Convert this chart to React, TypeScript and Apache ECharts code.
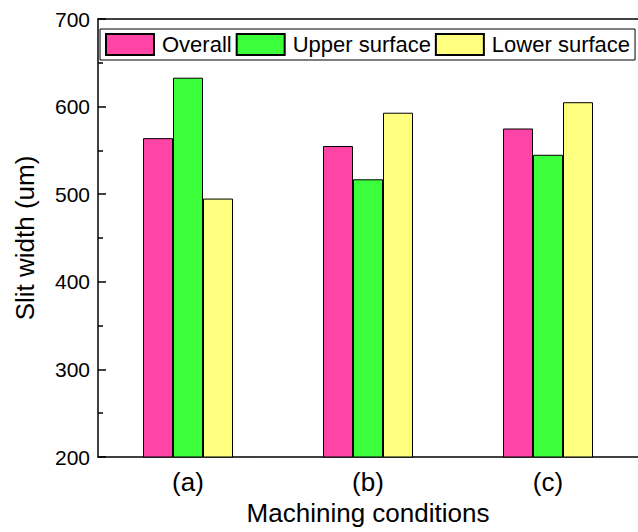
import React, { useEffect, useRef } from "react";
import * as echarts from "echarts";

const categories = ["(a)", "(b)", "(c)"];
const overall = [564, 555, 575];
const upperSurface = [633, 517, 545];
const lowerSurface = [495, 593, 605];
const seriesNames = ["Overall", "Upper surface", "Lower surface"];
const seriesColors = ["#FF44A8", "#3CFF3C", "#FFFF7F"];

const FONT = "'Liberation Sans', Arial, Helvetica, sans-serif";

export default function App() {
  const ref = useRef<HTMLDivElement>(null);
  useEffect(() => {
    if (!ref.current) return;
    const chart = echarts.init(ref.current, null, { renderer: "svg" });
    const values = [overall, upperSurface, lowerSurface];
    chart.setOption({
      animation: false,
      backgroundColor: "#fff",
      textStyle: { fontFamily: FONT, color: "#000" },
      grid: { left: 98, top: 19, bottom: 75, width: 543, containLabel: false },
      legend: {
        left: 100,
        top: 29,
        padding: [4, 5, 4, 5],
        borderColor: "#000",
        borderWidth: 1,
        icon: "rect",
        itemWidth: 48,
        itemHeight: 21,
        itemGap: 4,
        textStyle: { fontSize: 22, color: "#000", fontFamily: FONT, padding: [0, 0, 0, 3] },
        data: seriesNames,
      },
      xAxis: [
        {
          type: "category",
          data: categories,
          position: "bottom",
          axisLine: { lineStyle: { color: "#000", width: 1.5 } },
          axisTick: { show: false },
          axisLabel: { fontSize: 26, color: "#000", margin: 12, fontFamily: FONT },
          name: "Machining conditions",
          nameLocation: "middle",
          nameGap: 42,
          nameTextStyle: { fontSize: 26, color: "#000", fontFamily: FONT },
        },
        {
          type: "category",
          data: categories,
          position: "top",
          axisLine: { lineStyle: { color: "#000", width: 1.5 } },
          axisTick: { show: false },
          axisLabel: { show: false },
        },
      ],
      yAxis: {
        type: "value",
        min: 200,
        max: 700,
        interval: 100,
        axisLine: { show: true, lineStyle: { color: "#000", width: 1.5 } },
        axisTick: { show: true, inside: true, length: 8, lineStyle: { color: "#000", width: 1.5 } },
        minorTick: { show: true, splitNumber: 2, length: 5, lineStyle: { color: "#000", width: 1.5 } },
        splitLine: { show: false },
        axisLabel: { fontSize: 21, color: "#000", margin: 8, fontFamily: FONT },
        name: "Slit width (um)",
        nameLocation: "middle",
        nameGap: 60,
        nameTextStyle: { fontSize: 26, color: "#000", fontFamily: FONT },
      },
      series: seriesNames.map((name, i) => ({
        name,
        type: "bar",
        data: values[i],
        barWidth: 30,
        barGap: "0%",
        itemStyle: { color: seriesColors[i], borderColor: "#000", borderWidth: 1 },
      })),
    });
    return () => chart.dispose();
  }, []);
  return <div ref={ref} style={{ width: 638, height: 532, position: "absolute", left: 0, top: 0 }} />;
}
